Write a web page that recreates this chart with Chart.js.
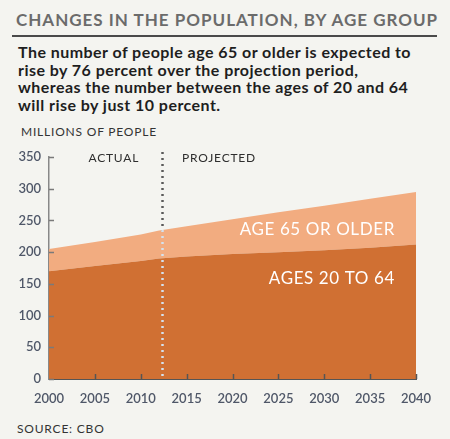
<!DOCTYPE html>
<html lang="en">
<head>
    <meta charset="UTF-8">
    <title>Changes in the population, by age group</title>
    <script src="https://cdn.jsdelivr.net/npm/chart.js"></script>
    <style>
        body {
            margin: 0;
            width: 450px;
            height: 439px;
            background: #f4f4f0;
            font-family: Lato, "Open Sans", sans-serif;
            position: relative;
            overflow: hidden;
        }
        .headline {
            position: absolute;
            left: 16px;
            top: 10px;
            font-size: 17px;
            line-height: 20px;
            font-weight: bold;
            letter-spacing: 1px;
            color: #6b6b6b;
            white-space: nowrap;
        }
        .rule {
            position: absolute;
            left: 12px;
            top: 35px;
            width: 425px;
            height: 2px;
            background: #4a4a4a;
        }
        .dek {
            position: absolute;
            left: 18px;
            top: 43px;
            font-size: 16px;
            line-height: 17.7px;
            font-weight: bold;
            letter-spacing: 0.45px;
            color: #1e1e1e;
            white-space: nowrap;
        }
        .unit, .source {
            position: absolute;
            font-size: 12px;
            line-height: 16px;
            letter-spacing: 0.8px;
            color: #333;
        }
        .unit { left: 21px; top: 124px; }
        .source { left: 17px; top: 421px; }
        .chart-box {
            position: absolute;
            left: 0;
            top: 140px;
            width: 450px;
            height: 280px;
        }
    </style>
</head>
<body>
    <div class="headline">CHANGES IN THE POPULATION, BY AGE GROUP</div>
    <div class="rule"></div>
    <div class="dek">The number of people age 65 or older is expected to<br>rise by 76 percent over the projection period,<br>whereas the number between the ages of 20 and 64<br>will rise by just 10 percent.</div>
    <div class="unit">MILLIONS OF PEOPLE</div>
    <div class="chart-box"><canvas id="popChart"></canvas></div>
    <div class="source">SOURCE: CBO</div>

    <script>
        // values (millions)
        const years = [2000, 2005, 2010, 2012, 2015, 2020, 2025, 2030, 2035, 2040];
        const ages20to64 = [170, 178, 186, 190, 193, 197, 200, 203, 207, 212];
        const age65plus = [35, 38, 42, 44, 48, 55, 63, 70, 77, 83];
        const xTicks = [2000, 2005, 2010, 2015, 2020, 2025, 2030, 2035, 2040];
        const yTicks = [0, 50, 100, 150, 200, 250, 300, 350];
        const projectionStart = 2012.3;

        const darkOrange = '#d07033';
        const lightOrange = '#f2ac80';

        const points = vals => vals.map((v, i) => ({ x: years[i], y: v }));

        // inward tick marks, the actual/projected divider and the labels
        const decorations = {
            id: 'decorations',
            afterDatasetsDraw(chart) {
                const { ctx, chartArea, scales } = chart;
                const x = scales.x, y = scales.y;

                ctx.save();
                // divider: light dots over the areas, dark dots behind them
                const dx = Math.round(x.getPixelForValue(projectionStart)) + 0.5;
                ctx.lineWidth = 2.5;
                ctx.setLineDash([2, 4]);
                ctx.globalCompositeOperation = 'source-atop';
                ctx.strokeStyle = '#d5e2ee';
                ctx.beginPath();
                ctx.moveTo(dx, chartArea.top - 5);
                ctx.lineTo(dx, chartArea.bottom - 2);
                ctx.stroke();
                ctx.globalCompositeOperation = 'destination-over';
                ctx.strokeStyle = '#5a5a5a';
                ctx.beginPath();
                ctx.moveTo(dx, chartArea.top - 5);
                ctx.lineTo(dx, chartArea.bottom - 2);
                ctx.stroke();
                ctx.restore();

                ctx.save();
                ctx.setLineDash([]);
                ctx.lineWidth = 1.5;
                ctx.strokeStyle = '#7a7a7a';
                yTicks.forEach(v => {
                    const py = Math.round(y.getPixelForValue(v)) + 0.5;
                    ctx.beginPath();
                    ctx.moveTo(chartArea.left, py);
                    ctx.lineTo(chartArea.left + 5, py);
                    ctx.stroke();
                });
                ctx.strokeStyle = '#555';
                xTicks.slice(1).forEach(v => {
                    const px = Math.round(x.getPixelForValue(v)) + 0.5;
                    ctx.beginPath();
                    ctx.moveTo(px, chartArea.bottom);
                    ctx.lineTo(px, chartArea.bottom - 5);
                    ctx.stroke();
                });

                ctx.fillStyle = '#2e2e2e';
                ctx.font = '12px Lato';
                ctx.letterSpacing = '0.8px';
                ctx.textBaseline = 'middle';
                ctx.textAlign = 'left';
                ctx.fillText('ACTUAL', x.getPixelForValue(2004.3), y.getPixelForValue(349));
                ctx.fillText('PROJECTED', x.getPixelForValue(2014.5), y.getPixelForValue(349));

                ctx.fillStyle = '#ffffff';
                ctx.font = '17px Lato';
                ctx.letterSpacing = '0.6px';
                ctx.textAlign = 'right';
                ctx.fillText('AGE 65 OR OLDER', x.getPixelForValue(2037.7), y.getPixelForValue(236));
                ctx.fillText('AGES 20 TO 64', x.getPixelForValue(2037.7), y.getPixelForValue(158));
                ctx.restore();
            }
        };

        const tickFont = { family: 'Lato', size: 13, weight: '600' };

        new Chart(document.getElementById('popChart'), {
            type: 'line',
            data: {
                datasets: [
                    {
                        label: 'Ages 20 to 64',
                        data: points(ages20to64),
                        backgroundColor: darkOrange,
                        borderWidth: 0,
                        pointRadius: 0,
                        fill: 'origin'
                    },
                    {
                        label: 'Age 65 or older',
                        data: points(age65plus),
                        backgroundColor: lightOrange,
                        borderWidth: 0,
                        pointRadius: 0,
                        fill: '-1'
                    }
                ]
            },
            options: {
                responsive: true,
                maintainAspectRatio: false,
                animation: false,
                layout: { padding: { top: 17, right: 34, left: 0, bottom: 0 } },
                plugins: {
                    legend: { display: false },
                    tooltip: { enabled: false }
                },
                scales: {
                    x: {
                        type: 'linear',
                        min: 2000,
                        max: 2040,
                        z: 1,
                        afterBuildTicks: s => { s.ticks = xTicks.map(v => ({ value: v })); },
                        afterFit: s => { s.height = 41; },
                        grid: { drawOnChartArea: false, drawTicks: false },
                        border: { color: '#555', width: 2 },
                        ticks: {
                            padding: 12,
                            color: '#4f5768',
                            font: tickFont,
                            callback: v => String(v)
                        }
                    },
                    y: {
                        stacked: true,
                        min: 0,
                        max: 350,
                        z: 1,
                        afterBuildTicks: s => { s.ticks = yTicks.map(v => ({ value: v })); },
                        afterFit: s => { s.width = 49; },
                        grid: { drawOnChartArea: false, drawTicks: false },
                        border: { color: '#888', width: 1.5 },
                        ticks: {
                            padding: 8,
                            color: '#4f5768',
                            font: tickFont
                        }
                    }
                }
            },
            plugins: [decorations]
        });
    </script>
</body>
</html>
